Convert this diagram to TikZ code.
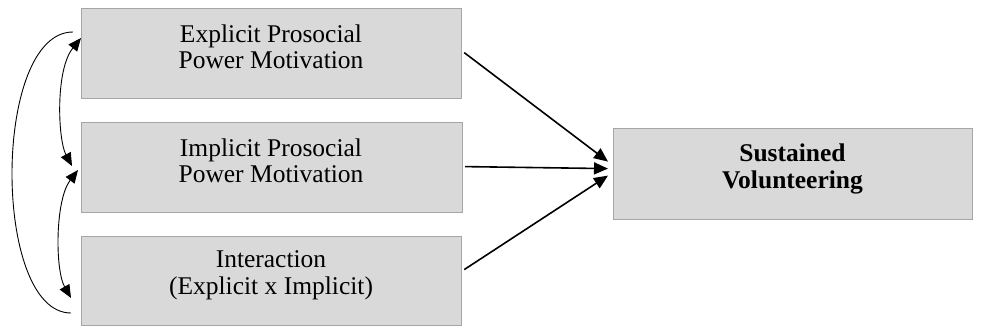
\documentclass[tikz,border=0pt]{standalone}
\usepackage{fontspec}
\setmainfont{Liberation Serif}
\usetikzlibrary{arrows.meta}
\definecolor{boxfill}{HTML}{D9D9D9}
\definecolor{boxline}{HTML}{A6A6A6}
\begin{document}
\begin{tikzpicture}[x=1pt,y=-1pt,
  panel/.style={draw=boxline,fill=boxfill,line width=1.2pt,inner sep=0pt,anchor=north west},
  lbl/.style={align=center,inner sep=0pt,font=\fontsize{25.5}{26.5}\selectfont},
  conn/.style={line width=1.6pt,-{Triangle[length=14pt,width=12pt]}},
  corr/.style={line width=0.9pt,{Triangle[length=13pt,width=11pt]}-{Triangle[length=13pt,width=11pt]}},
  outer/.style={line width=0.9pt}]
\useasboundingbox (0,0) rectangle (981,327);
% boxes
\node[panel,minimum width=380pt,minimum height=90pt] (b1) at (81,8) {};
\node[panel,minimum width=381pt,minimum height=90pt] (b2) at (81,122) {};
\node[panel,minimum width=380pt,minimum height=89pt] (b3) at (81,236) {};
\node[panel,minimum width=359pt,minimum height=91pt] (dv) at (613,128) {};
% labels
\node[lbl] (t1) at (271,46.6) {Explicit Prosocial\\Power Motivation};
\node[lbl] (t2) at (271,160.6) {Implicit Prosocial\\Power Motivation};
\node[lbl] (t3) at (271,275.3) {Interaction\\(Explicit x Implicit)};
\node[lbl,font=\fontsize{25.5}{26.5}\selectfont\bfseries] (t4) at (792.5,168.8) {Sustained\\Volunteering};
% connector end points
\coordinate (s1) at ([shift={(2,-1)}]b1.east);
\coordinate (s2) at ([shift={(2,-1)}]b2.east);
\coordinate (s3) at ([shift={(2,-11.5)}]b3.east);
\coordinate (e1) at ([shift={(-5,-12.5)}]dv.west);
\coordinate (e2) at ([shift={(-5,-5.5)}]dv.west);
\coordinate (e3) at ([shift={(-5,1.5)}]dv.west);
\draw[conn] (s1) -- (e1);
\draw[conn] (s2) -- (e2);
\draw[conn] (s3) -- (e3);
% correlations on the left
\coordinate (c1t) at ([shift={(0,30)}]b1.north west);
\coordinate (c1b) at ([shift={(-9,44)}]b2.north west);
\coordinate (c2t) at ([shift={(-3,48)}]b2.north west);
\coordinate (c2b) at ([shift={(-10,62)}]b3.north west);
\coordinate (o1) at ([shift={(-8,24)}]b1.north west);
\coordinate (o2) at ([shift={(-10,77)}]b3.north west);
\draw[corr] (c1t) .. controls ++(-26,32) and ++(-14,-26) .. (c1b);
\draw[corr] (c2t) .. controls ++(-23,30) and ++(-16,-28) .. (c2b);
\draw[outer] (o1) .. controls ++(-81,0) and ++(-79,0) .. (o2);
\end{tikzpicture}
\end{document}
